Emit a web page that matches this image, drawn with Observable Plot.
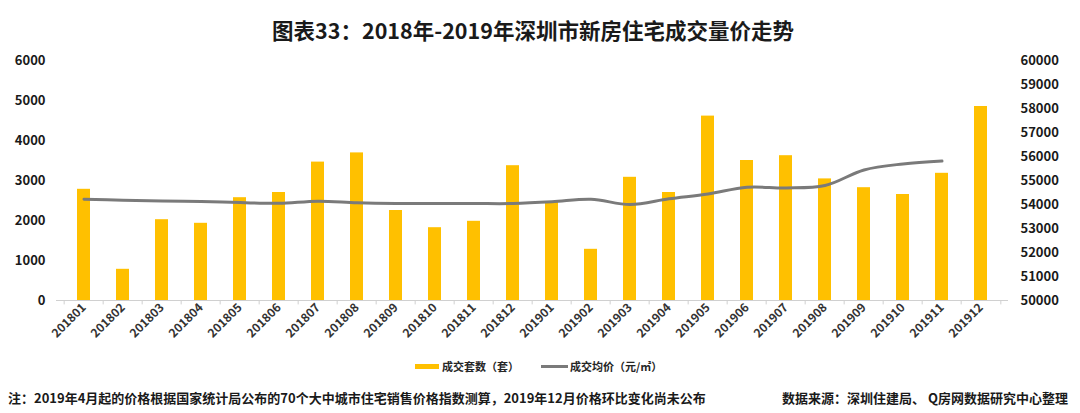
<!DOCTYPE html>
<html><head><meta charset="utf-8">
<script src="https://cdn.jsdelivr.net/npm/d3@7"></script>
<script src="https://cdn.jsdelivr.net/npm/@observablehq/plot@0.6"></script>
<style>
body{margin:0;background:#fff;font-family:"Noto Sans CJK SC","Noto Sans",sans-serif;width:1080px;height:413px;overflow:hidden;position:relative;color:#1a1a1a}
#title{box-sizing:border-box;height:50px;padding-top:18px;line-height:24px;text-align:center;font-weight:bold;font-size:21.5px;padding-right:14px}
#chart svg{display:block}
#legend{position:absolute;top:358px;left:415px;font-size:11px;font-weight:bold;display:flex;align-items:center;white-space:nowrap;color:#262626}
.sw{display:inline-block;width:24px;height:5px;background:#FFC000;margin-right:3px}
.ln{display:inline-block;width:27px;height:3px;background:#7a7a7a;margin-right:2px;margin-left:22px}
#note{position:absolute;top:388px;left:8px;font-size:13px;font-weight:bold;white-space:nowrap}
#src{position:absolute;top:388px;right:12px;font-size:13px;font-weight:bold;white-space:nowrap}
</style>
</head><body>
<div id="title">图表33：2018年-2019年深圳市新房住宅成交量价走势</div>
<div id="chart"></div>
<div id="legend"><span class="sw"></span>成交套数（套）<span class="ln"></span>成交均价（元/㎡）</div>
<div id="note">注：2019年4月起的价格根据国家统计局公布的70个大中城市住宅销售价格指数测算，2019年12月价格环比变化尚未公布</div>
<div id="src">数据来源：深圳住建局、 Q房网数据研究中心整理</div>
<script>
const months = ["201801","201802","201803","201804","201805","201806","201807","201808","201809","201810","201811","201812",
                "201901","201902","201903","201904","201905","201906","201907","201908","201909","201910","201911","201912"];
const units = [2780,780,2020,1930,2570,2700,3460,3690,2250,1820,1980,3370,
               2470,1280,3080,2700,4610,3500,3620,3040,2820,2650,3180,4850];
const priceMonths = months.slice(0, 23);
const prices = [54220,54180,54150,54130,54080,54050,54140,54070,54040,54040,54040,54040,
                54110,54220,54000,54240,54440,54720,54690,54790,55440,55690,55810];
const leftTicks = [0,1000,2000,3000,4000,5000,6000];
const rightTicks = [50000,51000,52000,53000,54000,55000,56000,57000,58000,59000,60000];

const pMin = 50000, pMax = 60000, uMax = 6000;
const toLeft = p => (p - pMin) * uMax / (pMax - pMin);
const fromLeft = d => String(Math.round(pMin + d * (pMax - pMin) / uMax));

const W = 1080, ML = 56, MR = 72;
const step = (W - ML - MR) / months.length;

const barData = months.map((m, i) => ({m, v: units[i]}));
const lineData = priceMonths.map((m, i) => ({m, p: prices[i]}));

const chart = Plot.plot({
  width: W, height: 300,
  marginTop: 10, marginBottom: 50, marginLeft: ML, marginRight: MR,
  style: {fontFamily: '"Noto Sans CJK SC","Noto Sans",sans-serif', fontWeight: "bold", color: "#1a1a1a", background: "#fff"},
  x: {domain: months, paddingInner: 0.67, paddingOuter: 0.335, label: null},
  y: {domain: [0, uMax], label: null},
  marks: [
    Plot.axisY(leftTicks, {anchor: "left", tickSize: 0, tickPadding: 11, fontSize: 13, tickFormat: d => String(d), label: null}),
    Plot.axisY(rightTicks.map(toLeft), {anchor: "right", tickSize: 0, tickPadding: 12, fontSize: 13, tickFormat: fromLeft, label: null}),
    Plot.axisX({tickRotate: -45, tickSize: 0, tickPadding: 5, fontSize: 12, fill: "#333", label: null}),
    Plot.barY(barData, {x: "m", y: "v", fill: "#FFC000"}),
    Plot.ruleY([0], {stroke: "#d0d0d0"}),
    Plot.ruleX(months, {x: d => d, y1: 0, y2: -110, dx: -step / 2, stroke: "#d0d0d0"}),
    Plot.ruleX(months.slice(-1), {x: d => d, y1: 0, y2: -110, dx: step / 2, stroke: "#d0d0d0"}),
    Plot.line(lineData, {x: "m", y: d => toLeft(d.p), stroke: "#7a7a7a", strokeWidth: 3, curve: "catmull-rom"})
  ]
});
document.getElementById("chart").appendChild(chart);
</script>
</body></html>
